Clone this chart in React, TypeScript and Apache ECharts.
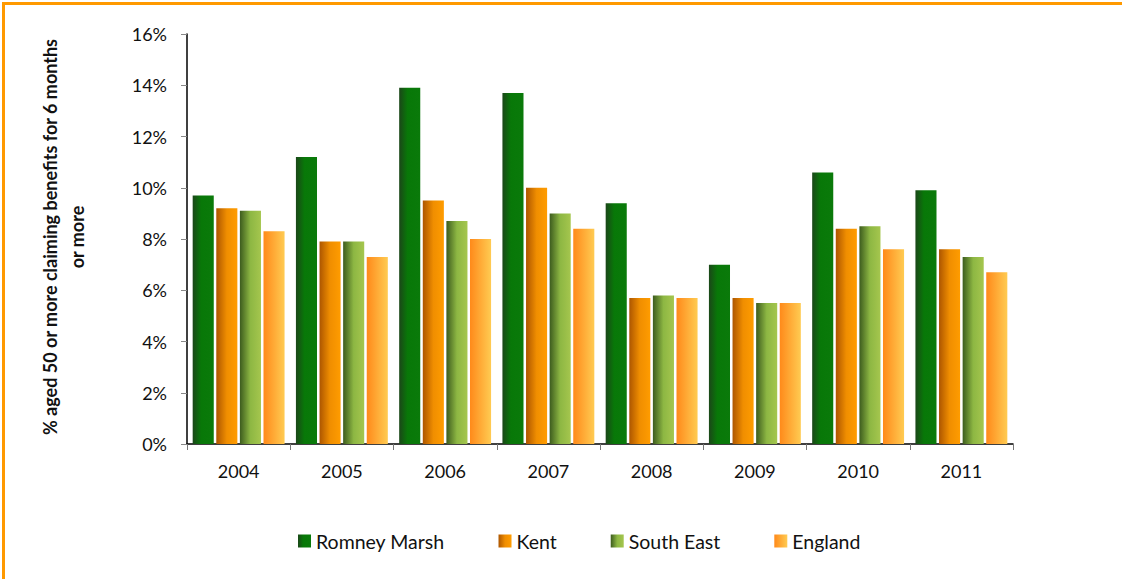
import React, { useEffect, useRef } from "react";
import * as echarts from "echarts";

const years = ["2004", "2005", "2006", "2007", "2008", "2009", "2010", "2011"];
const seriesNames = ["Romney Marsh", "Kent", "South East", "England"];
const romneyMarsh = [9.7, 11.2, 13.9, 13.7, 9.4, 7.0, 10.6, 9.9];
const kent = [9.2, 7.9, 9.5, 10.0, 5.7, 5.7, 8.4, 7.6];
const southEast = [9.1, 7.9, 8.7, 9.0, 5.8, 5.5, 8.5, 7.3];
const england = [8.3, 7.3, 8.0, 8.4, 5.7, 5.5, 7.6, 6.7];
const yTitle = "% aged 50 or more claiming benefits for 6 months\nor more";

const FONT = "Lato, 'Open Sans', sans-serif";

const grad = (stops: [number, string][]) =>
  new echarts.graphic.LinearGradient(
    0,
    0,
    1,
    0,
    stops.map(([offset, color]) => ({ offset, color }))
  );

const colors = [
  grad([
    [0, "#1b4719"],
    [0.4, "#087808"],
    [1, "#0a7a0a"],
  ]),
  grad([
    [0, "#ad5600"],
    [0.5, "#f08e00"],
    [1, "#ff9c00"],
  ]),
  grad([
    [0, "#3d5c1e"],
    [0.5, "#8db743"],
    [1, "#a5c64e"],
  ]),
  grad([
    [0, "#ff8a1a"],
    [1, "#ffcb52"],
  ]),
];

export default function App() {
  const ref = useRef<HTMLDivElement>(null);
  useEffect(() => {
    if (!ref.current) return;
    const chart = echarts.init(ref.current, undefined, { renderer: "svg" });
    const data = [romneyMarsh, kent, southEast, england];
    chart.setOption({
      animation: false,
      backgroundColor: "#ffffff",
      grid: { left: 187, right: 109, top: 34, bottom: 135, containLabel: false },
      legend: {
        data: seriesNames,
        left: 298,
        top: 531,
        padding: 0,
        itemWidth: 13,
        itemHeight: 13,
        itemGap: 54,
        icon: "rect",
        textStyle: {
          fontFamily: FONT,
          fontSize: 19.5,
          color: "#111",
        },
      },
      xAxis: {
        type: "category",
        data: years,
        axisLine: { lineStyle: { color: "#000", width: 1.5 } },
        axisTick: { show: true, length: 6, lineStyle: { color: "#777" } },
        axisLabel: { fontFamily: FONT, fontSize: 18, color: "#111", margin: 18 },
      },
      yAxis: {
        type: "value",
        min: 0,
        max: 16,
        interval: 2,
        axisLine: { show: true, lineStyle: { color: "#000", width: 1.5 } },
        axisTick: { show: true, length: 6, lineStyle: { color: "#888" } },
        splitLine: { show: false },
        axisLabel: {
          formatter: "{value}%",
          fontFamily: FONT,
          fontSize: 18,
          color: "#111",
          margin: 20,
        },
      },
      graphic: [
        { type: "rect", left: 2, top: 2, shape: { width: 1120, height: 3 }, style: { fill: "#ff9900" } },
        { type: "rect", left: 2, top: 2, shape: { width: 3, height: 577 }, style: { fill: "#ff9900" } },
        {
          type: "text",
          x: 63,
          y: 237,
          rotation: Math.PI / 2,
          style: {
            text: yTitle,
            fontFamily: FONT,
            fontSize: 18,
            fontWeight: "bold",
            fill: "#111",
            align: "center",
            verticalAlign: "middle",
            lineHeight: 27,
          },
        },
      ],
      series: data.map((vals, i) => ({
        name: seriesNames[i],
        type: "bar",
        data: vals,
        barGap: "12%",
        barCategoryGap: "11%",
        itemStyle: { color: colors[i] },
      })),
    });
    return () => chart.dispose();
  }, []);
  return (
    <div
      ref={ref}
      style={{ position: "absolute", left: 0, top: 0, width: 1122, height: 579 }}
    />
  );
}
